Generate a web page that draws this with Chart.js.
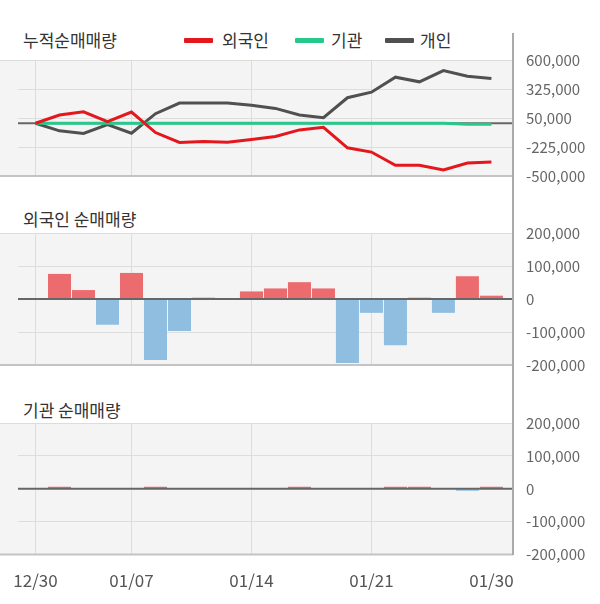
<!DOCTYPE html>
<html>
<head>
<meta charset="utf-8">
<script src="https://cdn.jsdelivr.net/npm/chart.js@4.4.1/dist/chart.umd.min.js"></script>
<style>
  html, body { margin:0; padding:0; background:#fff; }
  body { width:600px; height:604px; overflow:hidden; position:relative; font-family:'Noto Sans CJK KR','Noto Sans',sans-serif; }
  .ttl { position:absolute; font-size:17px; line-height:22px; color:#333; white-space:nowrap; }
  .sw { position:absolute; width:29px; height:5px; top:38px; border-radius:1px; }
  canvas { position:absolute; left:0; }
  #axisLine { position:absolute; left:512px; top:33px; width:2px; height:522px; background:#aaa; }
</style>
</head>
<body>
<div class="ttl" style="left:23px; top:29px;">누적순매매량</div>
<div class="sw" style="left:184px; background:#e3171c;"></div>
<div class="ttl" style="left:222px; top:29px;">외국인</div>
<div class="sw" style="left:295px; background:#26c98b;"></div>
<div class="ttl" style="left:331px; top:29px;">기관</div>
<div class="sw" style="left:385px; background:#505050;"></div>
<div class="ttl" style="left:420px; top:29px;">개인</div>
<div class="ttl" style="left:23px; top:208px;">외국인 순매매량</div>
<div class="ttl" style="left:23px; top:399px;">기관 순매매량</div>

<canvas id="c1" width="600" height="140" style="top:48px"></canvas>
<canvas id="c2" width="600" height="156" style="top:221px"></canvas>
<canvas id="c3" width="600" height="196" style="top:411px"></canvas>
<div id="axisLine"></div>

<script>
// ---------- data ----------
const dates = ['12/30','01/02','01/03','01/06','01/07','01/08','01/09','01/10','01/13','01/14',
               '01/15','01/16','01/17','01/20','01/21','01/22','01/23','01/28','01/29','01/30'];
const xTickLabels = ['12/30','01/07','01/14','01/21','01/30'];

const foreignCum = [0, 78000, 108000, 16000, 107000, -88000, -182000, -173000, -179000, -154000,
                    -126000, -63000, -38000, -233000, -273000, -399000, -399000, -443000, -377000, -368000];
const instCum    = [0, 0, 0, 0, 0, 0, 0, 0, 0, 0, 0, 0, 0, 0, 0, 0, 0, 0, -9000, -9000];
const indivCum   = [0, -72000, -97000, -13000, -94000, 91000, 192000, 192000, 192000, 170000,
                    141000, 79000, 53000, 242000, 295000, 437000, 393000, 500000, 446000, 424000];

const foreignDaily = [0, 76000, 27000, -78000, 79000, -185000, -97000, 4000, 0, 23000,
                      32000, 51000, 32000, -194000, -42000, -140000, 4000, -42000, 69000, 10000];
const instDaily    = [0, 6000, 0, 0, 0, 6000, 0, 0, 0, 0,
                      0, 6000, 0, 0, 0, 6000, 6000, 0, -6000, 6000];

const yTicksCum   = [600000, 325000, 50000, -225000, -500000];
const yTicksDaily = [200000, 100000, 0, -100000, -200000];

// ---------- styling ----------
const FONT = "'Noto Sans CJK KR','Noto Sans',sans-serif";
Chart.defaults.font.family = FONT;
const RED_LINE = '#e3171c', GREEN_LINE = '#26c98b', DARK_LINE = '#505050';
const RED_BAR = '#ec6b6e', BLUE_BAR = '#90bee0';
const GRID = '#dddddd';
const PLOT_LEFT = 18;

const panelPlugin = {
  id: 'panel',
  beforeDraw(chart) {
    const { ctx, chartArea: a } = chart;
    ctx.save();
    ctx.fillStyle = '#f4f4f4';
    ctx.fillRect(0, a.top, a.right, a.bottom - a.top);
    ctx.restore();
  },
  beforeDatasetsDraw(chart, args, opts) {
    const { ctx, chartArea: a } = chart;
    ctx.save();
    ctx.lineWidth = 1;
    ctx.strokeStyle = '#dcdcdc';
    ctx.beginPath(); ctx.moveTo(0, a.top + 0.5); ctx.lineTo(a.right, a.top + 0.5); ctx.stroke();
    ctx.strokeStyle = '#c4c4c4';
    ctx.lineWidth = 2;
    ctx.beginPath(); ctx.moveTo(0, a.bottom); ctx.lineTo(a.right, a.bottom); ctx.stroke();
    ctx.restore();
    if (!opts.zeroAfter) drawZero(chart);
  },
  afterDatasetsDraw(chart, args, opts) {
    if (opts.zeroAfter) drawZero(chart);
  }
};
function drawZero(chart) {
  const { ctx, chartArea: a } = chart;
  const y = chart.scales.y.getPixelForValue(0);
  ctx.save();
  ctx.strokeStyle = '#666666';
  ctx.lineWidth = 2;
  ctx.beginPath(); ctx.moveTo(a.left, y); ctx.lineTo(a.right, y); ctx.stroke();
  ctx.restore();
}

function xScale(showLabels) {
  return {
    type: 'linear',
    min: -0.73, max: 19.9,
    offset: false,
    afterBuildTicks: (s) => { s.ticks = xTickLabels.map(l => ({ value: dates.indexOf(l) })); },
    afterFit: (s) => { s.paddingLeft = 0; s.paddingRight = 0; },
    grid: {
      offset: false,
      drawTicks: false,
      color: (c) => (c.tick && c.tick.value === dates.length - 1) ? 'rgba(0,0,0,0)' : GRID,
      lineWidth: 1
    },
    border: { display: false },
    ticks: {
      display: showLabels,
      autoSkip: false, maxRotation: 0,
      padding: 16,
      color: '#555',
      font: { size: 17, family: FONT },
      callback: (v) => dates[v]
    }
  };
}
function yScale(tickArr) {
  return {
    position: 'right',
    min: Math.min(...tickArr), max: Math.max(...tickArr),
    afterBuildTicks: (s) => { s.ticks = tickArr.map(v => ({ value: v })); },
    afterFit: (s) => { s.width = 87; },
    grid: { drawTicks: false, color: GRID, lineWidth: 1 },
    border: { display: false },
    ticks: {
      padding: 13,
      color: '#666',
      font: { size: 15, family: FONT },
      callback: (v) => Number(v).toLocaleString('en-US')
    }
  };
}
const pts = (arr) => arr.map((v, i) => ({ x: i, y: v }));
const baseOpts = (zeroAfter, showX, yT) => ({
  responsive: false,
  maintainAspectRatio: false,
  animation: false,
  devicePixelRatio: 1,
  layout: { padding: { left: PLOT_LEFT, right: 0, top: 0, bottom: 0 } },
  plugins: { legend: { display: false }, tooltip: { enabled: false }, panel: { zeroAfter } },
  scales: { x: xScale(showX), y: yScale(yT) }
});

// create chart, then size/position canvas so its plot area lands on the wanted rows
function build(id, cfgFn, wantTop, wantBottom) {
  const cv = document.getElementById(id);
  let ch = new Chart(cv, cfgFn());
  const a = ch.chartArea;
  const newH = Math.round(cv.height + (wantBottom - wantTop) - (a.bottom - a.top));
  ch.destroy();
  cv.width = 600;
  cv.height = newH;
  ch = new Chart(cv, cfgFn());
  cv.style.top = (wantTop - ch.chartArea.top) + 'px';
  cv.style.left = (PLOT_LEFT - ch.chartArea.left) + 'px';
  return ch;
}

build('c1', () => ({
  type: 'line',
  data: {
    datasets: [
      { label: '외국인', data: pts(foreignCum), borderColor: RED_LINE, borderWidth: 3, pointRadius: 0, tension: 0 },
      { label: '기관', data: pts(instCum), borderColor: GREEN_LINE, borderWidth: 3, pointRadius: 0, tension: 0 },
      { label: '개인', data: pts(indivCum), borderColor: DARK_LINE, borderWidth: 3, pointRadius: 0, tension: 0 }
    ]
  },
  options: baseOpts(false, false, yTicksCum),
  plugins: [panelPlugin]
}), 60, 176);

function barCfg(arr, showX) {
  return () => ({
    type: 'bar',
    data: {
      datasets: [{
        data: pts(arr),
        backgroundColor: (c) => (c.raw && c.raw.y < 0) ? BLUE_BAR : RED_BAR,
        borderWidth: 0,
        barPercentage: 0.96,
        categoryPercentage: 1
      }]
    },
    options: baseOpts(true, showX, yTicksDaily),
    plugins: [panelPlugin]
  });
}
build('c2', barCfg(foreignDaily, false), 233, 365);
build('c3', barCfg(instDaily, true), 423, 555);
</script>
</body>
</html>
